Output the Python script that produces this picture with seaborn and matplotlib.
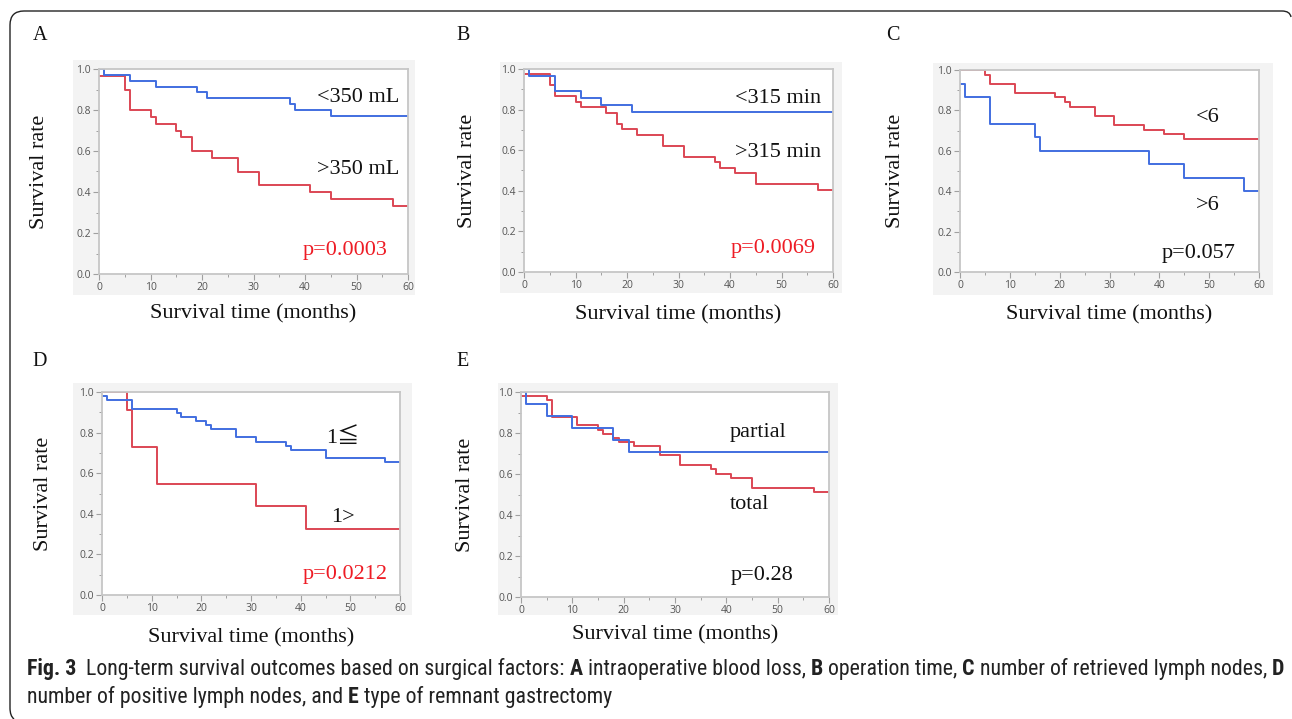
import numpy as np
import pandas as pd
import matplotlib
matplotlib.use("Agg")
import matplotlib.pyplot as plt
import seaborn as sns
from matplotlib import font_manager
from matplotlib.patches import Rectangle, PathPatch
from matplotlib.path import Path
from matplotlib.ticker import MultipleLocator

# ---------------- data ----------------
A_blue_t = [0, 1, 6, 11, 19, 21, 37, 38, 45, 60]
A_blue_s = [1.0, 0.971, 0.943, 0.914, 0.886, 0.857, 0.829, 0.800, 0.771, 0.771]
A_red_t = [0, 5, 6, 10, 11, 15, 16, 18, 22, 27, 31, 41, 45, 57, 60]
A_red_s = [0.967, 0.900, 0.800, 0.767, 0.733, 0.700, 0.667, 0.600, 0.567, 0.500,
           0.433, 0.400, 0.367, 0.333, 0.333]

B_blue_t = [0, 1, 6, 11, 15, 21, 60]
B_blue_s = [1.0, 0.964, 0.893, 0.857, 0.821, 0.786, 0.786]
B_red_t = [0, 5, 6, 10, 11, 16, 18, 19, 22, 27, 31, 37, 38, 41, 45, 57, 60]
B_red_s = [0.973, 0.919, 0.865, 0.838, 0.811, 0.784, 0.730, 0.703, 0.676, 0.622,
           0.568, 0.541, 0.514, 0.486, 0.432, 0.405, 0.405]

C_red_t = [0, 5, 6, 11, 19, 21, 22, 27, 31, 37, 41, 45, 60]
C_red_s = [1.0, 0.977, 0.932, 0.886, 0.864, 0.841, 0.818, 0.773, 0.727, 0.705,
           0.682, 0.659, 0.659]
C_blue_t = [0, 1, 6, 15, 16, 38, 45, 57, 60]
C_blue_s = [0.933, 0.867, 0.733, 0.667, 0.600, 0.533, 0.467, 0.400, 0.400]

D_blue_t = [0, 1, 6, 15, 16, 19, 21, 22, 27, 31, 37, 38, 45, 57, 60]
D_blue_s = [0.980, 0.959, 0.918, 0.898, 0.878, 0.857, 0.837, 0.816, 0.776, 0.755,
            0.735, 0.714, 0.673, 0.653, 0.653]
D_red_t = [0, 5, 6, 11, 31, 41, 60]
D_red_s = [1.0, 0.909, 0.727, 0.545, 0.436, 0.327, 0.327]

E_blue_t = [0, 1, 5, 10, 18, 21, 60]
E_blue_s = [1.0, 0.941, 0.882, 0.824, 0.765, 0.706, 0.706]
E_red_t = [0, 5, 6, 11, 15, 16, 18, 19, 22, 27, 31, 37, 38, 41, 45, 57, 60]
E_red_s = [0.980, 0.959, 0.878, 0.837, 0.816, 0.796, 0.776, 0.755, 0.735, 0.694,
           0.643, 0.622, 0.602, 0.582, 0.531, 0.510, 0.510]

panel_letters = ["A", "B", "C", "D", "E"]
group_labels = [("<350 mL", ">350 mL"), ("<315 min", ">315 min"), ("<6", ">6"),
                ("1\u2266", "1>"), ("partial", "total")]
p_values = ["p=0.0003", "p=0.0069", "p=0.057", "p=0.0212", "p=0.28"]
p_significant = [True, True, False, True, False]

x_ticks = [0, 10, 20, 30, 40, 50, 60]
y_ticks = [0.0, 0.2, 0.4, 0.6, 0.8, 1.0]
x_label = "Survival time (months)"
y_label = "Survival rate"

caption_line1 = [("Fig. 3", "bold"),
                 ("  Long-term survival outcomes based on surgical factors: ", "normal"),
                 ("A", "bold"), (" intraoperative blood loss, ", "normal"),
                 ("B", "bold"), (" operation time, ", "normal"),
                 ("C", "bold"), (" number of retrieved lymph nodes, ", "normal"),
                 ("D", "bold")]
caption_line2 = [("number of positive lymph nodes, and ", "normal"),
                 ("E", "bold"), (" type of remnant gastrectomy", "normal")]

# ---------------- styling ----------------
sns.set_style("white")
W, H = 1292, 719
DPI = 100
SERIF = ["Liberation Serif", "DejaVu Serif"]
TICKFONT = ["Open Sans", "DejaVu Sans"]
BLUE = "#416ee0"
RED = "#dc4654"
PRED = "#ee1c25"

avail = {(f.name, f.stretch) for f in font_manager.fontManager.ttflist}
names = {n for n, s in avail}
cap_props = {"family": ["Open Sans", "DejaVu Sans"]}
if "Liberation Sans Narrow" in names:
    cap_props = {"family": ["Liberation Sans Narrow", "DejaVu Sans"]}
elif "Roboto Condensed" in names:
    cap_props = {"family": ["Roboto Condensed", "DejaVu Sans"]}
elif ("DejaVu Sans", "condensed") in avail or ("DejaVu Sans", "semi-condensed") in avail:
    cap_props = {"family": ["DejaVu Sans"], "stretch": "condensed"}

fig = plt.figure(figsize=(W / DPI, H / DPI), dpi=DPI)
fig.patch.set_facecolor("white")

def fx(px):
    return px / W

def fy(py):
    return 1 - py / H

# axes boxes in pixels: left, right, top, bottom
boxes = [(99, 408, 69, 274), (524, 833, 69, 272), (960, 1259, 70, 272),
         (102, 400, 392, 595), (521, 829, 392, 597)]
# light-grey panel backgrounds
grey = [(73, 60, 415, 295), (500, 62, 842, 293), (933, 63, 1273, 295),
        (73, 383, 412, 615), (498, 383, 838, 615)]
letter_pos = [(40, 35), (463, 35), (893, 35), (40, 362), (463, 362)]
ylab_off = [59, 57, 65, 59, 55]
xlab_off = [40, 43, 43, 43, 38]
# text anchors in data coordinates (t, s)
lab1_pos = [(50.3, 0.863), (49.3, 0.857), (49.8, 0.767), (48.5, 0.773), (46.2, 0.80)]
lab2_pos = [(50.3, 0.512), (49.3, 0.591), (49.8, 0.327), (48.5, 0.384), (44.6, 0.449)]
p_pos = [(47.8, 0.117), (48.3, 0.118), (47.8, 0.094), (48.9, 0.099), (46.9, 0.107)]

curves = [
    ((A_blue_t, A_blue_s), (A_red_t, A_red_s)),
    ((B_blue_t, B_blue_s), (B_red_t, B_red_s)),
    ((C_blue_t, C_blue_s), (C_red_t, C_red_s)),
    ((D_blue_t, D_blue_s), (D_red_t, D_red_s)),
    ((E_blue_t, E_blue_s), (E_red_t, E_red_s)),
]

for i in range(5):
    gl, gt, gr, gb = grey[i]
    fig.patches.append(Rectangle((fx(gl), fy(gb)), fx(gr - gl), (gb - gt) / H,
                                 transform=fig.transFigure, facecolor="#f3f3f3",
                                 edgecolor="none", zorder=-5))
    l, r, t, b = boxes[i]
    ax = fig.add_axes([fx(l), fy(b), fx(r - l), (b - t) / H])
    ax.set_facecolor("white")
    (bt, bs), (rt, rs) = curves[i]
    df = pd.concat([
        pd.DataFrame({"time": bt, "surv": bs, "grp": "blue"}),
        pd.DataFrame({"time": rt, "surv": rs, "grp": "red"}),
    ], ignore_index=True)
    sns.lineplot(data=df, x="time", y="surv", hue="grp",
                 palette={"blue": BLUE, "red": RED}, hue_order=["red", "blue"],
                 drawstyle="steps-post", estimator=None, errorbar=None,
                 linewidth=1.4, legend=False, ax=ax)
    ax.set_xlim(0, 60)
    ax.set_ylim(0, 1.0)
    ax.set_xticks(x_ticks)
    ax.set_yticks(y_ticks)
    ax.set_xticklabels([str(v) for v in x_ticks])
    ax.set_yticklabels([f"{v:.1f}" for v in y_ticks])
    ax.xaxis.set_minor_locator(MultipleLocator(5))
    ax.yaxis.set_minor_locator(MultipleLocator(0.1))
    ax.tick_params(which="major", direction="out", length=4, width=0.8,
                   color="#a0a0a0", labelsize=7.5, labelcolor="#555555", pad=2,
                   bottom=True, left=True)
    ax.tick_params(which="minor", direction="out", length=2.5, width=0.7,
                   color="#a0a0a0", bottom=True, left=True)
    for lab in ax.get_xticklabels() + ax.get_yticklabels():
        lab.set_family(TICKFONT)
    for sp in ax.spines.values():
        sp.set_visible(True)
        sp.set_color("#c6c6c6")
        sp.set_linewidth(1.3)
    ax.set_xlabel(x_label, fontsize=16, family=SERIF, color="#111111")
    ax.set_ylabel(y_label, fontsize=16, family=SERIF, color="#111111")
    ax.xaxis.set_label_coords(0.5, -xlab_off[i] / (b - t))
    ax.xaxis.label.set_va("center")
    ax.yaxis.set_label_coords(-ylab_off[i] / (r - l), 0.5)
    ax.yaxis.label.set_va("center")

    fam_lab = SERIF if i != 3 else ["Liberation Serif", "Noto Sans CJK JP", "DejaVu Sans"]
    ax.text(*lab1_pos[i], group_labels[i][0], fontsize=16, family=fam_lab,
            ha="center", va="center", color="#111111")
    ax.text(*lab2_pos[i], group_labels[i][1], fontsize=16, family=fam_lab,
            ha="center", va="center", color="#111111")
    ax.text(*p_pos[i], p_values[i], fontsize=16, family=SERIF, ha="center",
            va="center", color=PRED if p_significant[i] else "#111111")

    fig.text(fx(letter_pos[i][0]), fy(letter_pos[i][1]), panel_letters[i],
             fontsize=14.5, family=SERIF, ha="center", va="center", color="#111111")

# border (top and left edges with rounded corners)
verts = [(fx(1291), fy(17)), (fx(1290), fy(11)), (fx(1282), fy(11)),
         (fx(24), fy(11)), (fx(10), fy(11)), (fx(10), fy(25)),
         (fx(10), fy(708)), (fx(10), fy(716)), (fx(14), fy(719))]
codes = [Path.MOVETO, Path.CURVE3, Path.CURVE3, Path.LINETO, Path.CURVE3, Path.CURVE3,
         Path.LINETO, Path.CURVE3, Path.CURVE3]
fig.patches.append(PathPatch(Path(verts, codes), transform=fig.transFigure,
                             facecolor="none", edgecolor="#222222", linewidth=1.0))

# caption
fig.canvas.draw()
renderer = fig.canvas.get_renderer()

def seg_width(txt, weight, size):
    t1 = fig.text(0, 0, txt + "|", fontsize=size, weight=weight, **cap_props)
    t2 = fig.text(0, 0, "|", fontsize=size, weight=weight, **cap_props)
    w = t1.get_window_extent(renderer).width - t2.get_window_extent(renderer).width
    t1.remove()
    t2.remove()
    return w

base = 10.0
total = sum(seg_width(s, w, base) for s, w in caption_line1)
size = base * (1283 - 27) / total

def draw_line(segs, x0, y):
    x = x0
    for s, w in segs:
        fig.text(fx(x), fy(y), s, fontsize=size, weight=w, ha="left", va="center",
                 color="#222222", **cap_props)
        x += seg_width(s, w, size)

draw_line(caption_line1, 27, 669)
draw_line(caption_line2, 27, 697)

fig.savefig("out.png", dpi=DPI, facecolor="white")
